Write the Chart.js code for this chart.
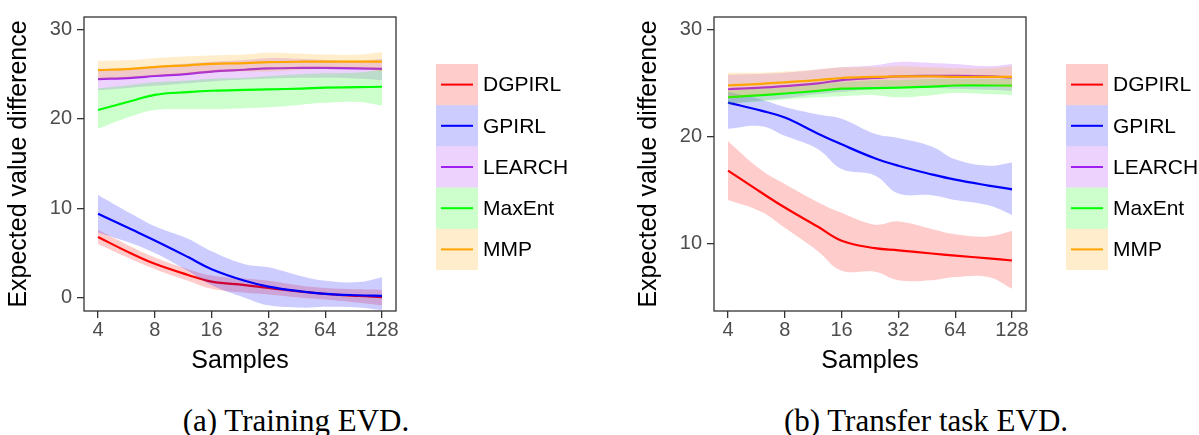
<!DOCTYPE html>
<html>
<head>
<meta charset="utf-8">
<script src="https://cdn.jsdelivr.net/npm/chart.js@4/dist/chart.umd.min.js"></script>
<style>
  html, body { margin: 0; padding: 0; background: #fff; width: 1199px; height: 435px; overflow: hidden; }
  .panel { position: absolute; top: 0; width: 569px; height: 380px; }
  #panelA { left: 0; }
  #panelB { left: 630px; }
  .caption {
    position: absolute; top: 405px; white-space: nowrap; color: #000;
    font-family: "Liberation Serif", serif; font-size: 31px; line-height: 31px;
    transform: translateX(-50%);
  }
</style>
</head>
<body>
<div class="panel" id="panelA"><canvas id="chartA" width="569" height="380"></canvas></div>
<div class="panel" id="panelB"><canvas id="chartB" width="569" height="380"></canvas></div>
<div class="caption" style="left:296px">(a) Training EVD.</div>
<div class="caption" style="left:926px">(b) Transfer task EVD.</div>
<script>
// Number of demonstration samples (x positions of the smoothed curves)
const SAMPLES = [4, 6, 8, 12, 16, 24, 32, 48, 64, 96, 128];
const X_TICKS = [4, 8, 16, 32, 64, 128];
const Y_TICKS_TRAIN = [0, 10, 20, 30];
const Y_TICKS_TRANSFER = [10, 20, 30];
const METHODS = ['DGPIRL', 'GPIRL', 'LEARCH', 'MaxEnt', 'MMP'];

// Training EVD: smoothed mean and confidence band per method
const trDgpirlMean = [6.8, 4.95, 3.8, 2.55, 1.8, 1.42, 1.1, 0.68, 0.44, 0.2, 0.07];
const trDgpirlLow  = [6.0, 4.3, 3.2, 1.9, 1.0, 0.55, 0.36, 0.0, -0.2, -0.55, -0.85];
const trDgpirlHigh = [7.6, 5.7, 4.5, 3.2, 2.5, 2.15, 1.9, 1.35, 1.1, 0.95, 0.9];

const trGpirlMean = [9.4, 7.65, 6.4, 4.55, 3.2, 1.9, 1.25, 0.7, 0.44, 0.28, 0.22];
const trGpirlLow  = [7.3, 6.1, 5.0, 3.0, 1.4, 0.0, -0.85, -1.1, -1.0, -1.1, -1.4];
const trGpirlHigh = [11.5, 9.4, 8.0, 6.6, 5.2, 3.75, 3.4, 2.4, 1.9, 1.75, 2.3];

const trLearchMean = [24.45, 24.6, 24.8, 25.05, 25.3, 25.5, 25.65, 25.7, 25.7, 25.65, 25.6];
const trLearchLow  = [23.2, 23.5, 23.7, 24.0, 24.2, 24.4, 24.5, 24.6, 24.6, 24.5, 24.35];
const trLearchHigh = [25.6, 25.7, 25.9, 26.2, 26.4, 26.6, 26.8, 26.7, 26.6, 26.5, 26.7];

const trMaxentMean = [21.0, 22.0, 22.7, 23.0, 23.15, 23.25, 23.3, 23.4, 23.5, 23.55, 23.6];
const trMaxentLow  = [18.9, 20.3, 21.0, 21.1, 21.1, 21.2, 21.3, 21.6, 21.8, 21.9, 21.5];
const trMaxentHigh = [23.4, 23.8, 24.1, 24.3, 24.5, 24.6, 24.8, 25.0, 25.1, 25.2, 25.5];

const trMmpMean = [25.45, 25.6, 25.8, 26.0, 26.15, 26.25, 26.35, 26.4, 26.4, 26.4, 26.4];
const trMmpLow  = [24.4, 24.6, 24.8, 25.0, 25.2, 25.3, 25.3, 25.5, 25.6, 25.6, 25.3];
const trMmpHigh = [26.5, 26.6, 26.8, 27.0, 27.1, 27.2, 27.4, 27.3, 27.2, 27.2, 27.5];

// Transfer task EVD
const tfDgpirlMean = [16.85, 14.8, 13.4, 11.6, 10.3, 9.6, 9.4, 9.1, 8.9, 8.65, 8.45];
const tfDgpirlLow  = [14.1, 13.0, 11.5, 9.3, 7.5, 7.4, 6.6, 6.6, 6.9, 6.9, 5.8];
const tfDgpirlHigh = [19.6, 16.9, 15.6, 13.9, 12.9, 11.8, 12.1, 11.4, 10.9, 10.7, 11.2];

const tfGpirlMean = [23.2, 22.45, 21.8, 20.3, 19.3, 18.0, 17.3, 16.5, 16.0, 15.45, 15.1];
const tfGpirlLow  = [20.75, 21.0, 20.1, 18.85, 17.0, 16.4, 14.7, 14.55, 14.1, 13.6, 12.7];
const tfGpirlHigh = [24.2, 23.5, 22.8, 22.1, 21.7, 20.3, 19.9, 19.1, 17.9, 17.3, 17.6];

const tfLearchMean = [24.45, 24.6, 24.75, 25.0, 25.3, 25.5, 25.65, 25.7, 25.7, 25.65, 25.55];
const tfLearchLow  = [23.1, 23.4, 23.6, 24.0, 24.2, 24.5, 24.7, 24.6, 24.5, 24.4, 24.3];
const tfLearchHigh = [25.8, 25.9, 26.0, 26.3, 26.5, 26.7, 27.0, 26.9, 26.8, 26.6, 26.8];

const tfMaxentMean = [23.7, 23.9, 24.05, 24.3, 24.5, 24.55, 24.6, 24.7, 24.8, 24.8, 24.8];
const tfMaxentLow  = [23.1, 23.3, 23.5, 23.7, 23.8, 23.9, 23.7, 23.9, 24.1, 24.0, 23.9];
const tfMaxentHigh = [24.3, 24.5, 24.6, 24.9, 25.1, 25.3, 25.3, 25.4, 25.4, 25.4, 25.4];

const tfMmpMean = [24.8, 24.95, 25.1, 25.3, 25.5, 25.6, 25.65, 25.65, 25.6, 25.6, 25.6];
const tfMmpLow  = [23.6, 23.9, 24.1, 24.3, 24.5, 24.7, 24.7, 24.8, 24.8, 24.8, 24.6];
const tfMmpHigh = [26.0, 26.0, 26.1, 26.3, 26.5, 26.5, 26.6, 26.5, 26.4, 26.4, 26.6];

// Styling
const LINE_COLORS = ['#FF0000', '#0000FF', '#A020F0', '#00FF00', '#FFA500'];
const BAND_COLORS = ['rgba(255,0,0,0.2)', 'rgba(0,0,255,0.2)', 'rgba(160,32,240,0.2)',
                     'rgba(0,255,0,0.2)', 'rgba(255,165,0,0.2)'];
const SANS = '"Liberation Sans", Arial, sans-serif';
const CLEAR = 'rgba(0,0,0,0)';

const toPoints = ys => SAMPLES.map((x, i) => ({ x: x, y: ys[i] }));

// Each method: upper bound, lower bound (filled up to the upper one), then the mean line.
// Lower "order" draws on top, so later methods are painted over earlier ones.
function buildDatasets(means, lows, highs) {
  const datasets = [];
  METHODS.forEach((name, i) => {
    const rank = (METHODS.length - i) * 3;
    const common = { pointRadius: 0, pointHoverRadius: 0, tension: 0.4 };
    datasets.push(Object.assign({}, common, {
      label: name + ' upper', data: toPoints(highs[i]),
      borderColor: CLEAR, borderWidth: 0, fill: false, order: rank
    }));
    datasets.push(Object.assign({}, common, {
      label: name + ' lower', data: toPoints(lows[i]),
      borderColor: CLEAR, borderWidth: 0, backgroundColor: BAND_COLORS[i], fill: '-1', order: rank - 1
    }));
    datasets.push(Object.assign({}, common, {
      label: name, data: toPoints(means[i]),
      borderColor: LINE_COLORS[i], borderWidth: 2.2, fill: false, order: rank - 2
    }));
  });
  return datasets;
}

// Panel frame drawn over the data
const framePlugin = {
  id: 'panelFrame',
  afterDatasetsDraw(chart) {
    const { ctx, chartArea: a } = chart;
    ctx.save();
    ctx.strokeStyle = '#333333';
    ctx.lineWidth = 1.3;
    ctx.strokeRect(a.left, a.top, a.right - a.left, a.bottom - a.top);
    ctx.restore();
  }
};

// Legend with ribbon-coloured keys and a line through each key
const ribbonLegendPlugin = {
  id: 'ribbonLegend',
  afterDraw(chart) {
    const { ctx, chartArea: a } = chart;
    const x0 = a.right + 40, y0 = 64, keyW = 42, keyH = 41.2;
    ctx.save();
    METHODS.forEach((name, i) => {
      const y = y0 + i * keyH;
      ctx.fillStyle = BAND_COLORS[i];
      ctx.fillRect(x0, y, keyW, keyH);
      ctx.strokeStyle = LINE_COLORS[i];
      ctx.lineWidth = 2;
      ctx.beginPath();
      ctx.moveTo(x0 + 5, y + keyH / 2);
      ctx.lineTo(x0 + keyW - 5, y + keyH / 2);
      ctx.stroke();
      ctx.fillStyle = '#000';
      ctx.font = '21px ' + SANS;
      ctx.textBaseline = 'middle';
      ctx.textAlign = 'left';
      ctx.fillText(name, x0 + keyW + 5, y + keyH / 2 + 1);
    });
    ctx.restore();
  }
};

function makeChart(canvasId, means, lows, highs, yMin, yMax, yTicks) {
  return new Chart(document.getElementById(canvasId), {
    type: 'line',
    data: { datasets: buildDatasets(means, lows, highs) },
    options: {
      responsive: false,
      animation: false,
      devicePixelRatio: 1,
      layout: { padding: { left: 0, top: 13, right: 173, bottom: 0 } },
      plugins: { legend: { display: false }, tooltip: { enabled: false } },
      events: [],
      scales: {
        x: {
          type: 'logarithmic',
          min: 3.372, max: 151.8,
          afterBuildTicks: s => { s.ticks = X_TICKS.map(v => ({ value: v })); },
          afterFit: s => { s.height = 69; },
          border: { display: false },
          grid: { drawOnChartArea: false, drawTicks: true, tickLength: 7, color: '#333333', lineWidth: 1.3 },
          ticks: {
            color: '#4D4D4D', padding: 0, maxRotation: 0, autoSkip: false,
            font: { family: SANS, size: 20 },
            callback: v => String(v)
          },
          title: {
            display: true, text: 'Samples', color: '#000',
            font: { family: SANS, size: 25 }, padding: { top: 0, bottom: 4 }
          }
        },
        y: {
          type: 'linear',
          min: yMin, max: yMax,
          afterBuildTicks: s => { s.ticks = yTicks.map(v => ({ value: v })); },
          afterFit: s => { s.width = 84; },
          border: { display: false },
          grid: { drawOnChartArea: false, drawTicks: true, tickLength: 7, color: '#333333', lineWidth: 1.3 },
          ticks: {
            color: '#4D4D4D', padding: 5,
            font: { family: SANS, size: 20 },
            callback: v => String(v)
          },
          title: {
            display: true, text: 'Expected value difference', color: '#000',
            font: { family: SANS, size: 25 }, padding: { top: 4, bottom: 0 }
          }
        }
      }
    },
    plugins: [framePlugin, ribbonLegendPlugin]
  });
}

makeChart('chartA',
  [trDgpirlMean, trGpirlMean, trLearchMean, trMaxentMean, trMmpMean],
  [trDgpirlLow, trGpirlLow, trLearchLow, trMaxentLow, trMmpLow],
  [trDgpirlHigh, trGpirlHigh, trLearchHigh, trMaxentHigh, trMmpHigh],
  -1.48, 31.4, Y_TICKS_TRAIN);

makeChart('chartB',
  [tfDgpirlMean, tfGpirlMean, tfLearchMean, tfMaxentMean, tfMmpMean],
  [tfDgpirlLow, tfGpirlLow, tfLearchLow, tfMaxentLow, tfMmpLow],
  [tfDgpirlHigh, tfGpirlHigh, tfLearchHigh, tfMaxentHigh, tfMmpHigh],
  3.73, 31.2, Y_TICKS_TRANSFER);
</script>
</body>
</html>
